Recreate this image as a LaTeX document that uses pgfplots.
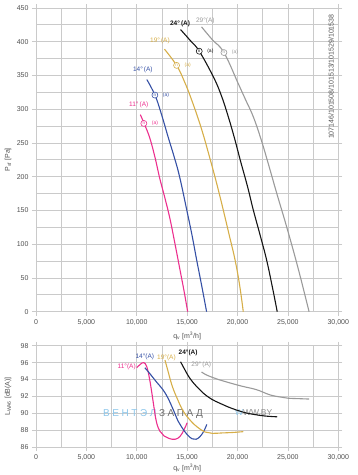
\documentclass[border=0pt]{standalone}
\usepackage{pgfplots}
\pgfplotsset{compat=1.18}
\usepackage{fontspec}
\setmainfont{Liberation Sans}
\definecolor{pinkc}{HTML}{EC2F8E}
\definecolor{bluec}{HTML}{3550A5}
\definecolor{goldc}{HTML}{D6AE48}
\definecolor{blackc}{HTML}{151515}
\definecolor{grayc}{HTML}{9A9A9A}
\definecolor{gridc}{HTML}{CACACA}
\definecolor{tickc}{HTML}{505050}
\definecolor{wmblue}{HTML}{8CC6EA}
\definecolor{wmgray}{HTML}{6E6E6E}
\tikzset{
  lab/.style={font=\fontsize{6.5}{7}\selectfont, anchor=center},
  alab/.style={font=\fontsize{5}{5}\selectfont, anchor=west, text=#1},
}
\pgfplotsset{
  common/.style={
    scale only axis, width=302.3pt,
    xmin=0, xmax=30000,
    xtick={0,5000,...,30000}, minor xtick={2500,7500,...,27500},
    scaled x ticks=false,
    grid=both,
    major grid style={gridc, line width=0.8pt},
    minor grid style={gridc, line width=0.8pt},
    axis line style={gridc, line width=0.8pt},
    tick style={gridc, line width=0.7pt},
    tick align=outside, major tick length=4pt, minor tick length=0pt,
    ticklabel style={font=\fontsize{7}{8}\selectfont, text=tickc},
    /pgf/number format/assume math mode=true,
    /pgf/number format/1000 sep={,},
    label style={font=\fontsize{7}{8}\selectfont, text=tickc},
    clip=false,
  },
  curve/.style={line width=1.1pt, smooth, tension=0.7, mark=none},
  opm/.style={draw=none, mark=none, nodes near coords={n},
    every node near coord/.style={circle, draw=#1, text=#1, fill=white,
      inner sep=0pt, minimum size=6pt, line width=0.6pt,
      font=\fontsize{4.5}{4.5}\selectfont, anchor=center}},
}
\begin{document}
\begin{tikzpicture}
\useasboundingbox (0,-475pt) rectangle (358pt,0);
% ---------------- upper chart ----------------
\begin{axis}[common, at={(36pt,-8pt)}, anchor=north west,
  height=303.7pt, ymin=0, ymax=450,
  ytick={0,50,...,450}, minor ytick={25,75,...,425},
  xlabel={q\textsubscript{v} [m\textsuperscript{3}/h]},
  xlabel style={at={(axis description cs:0.5,-0.08)}, anchor=center},
  ylabel={P\textsubscript{sf} [Pa]},
  ylabel style={at={(axis description cs:-0.0926,0.5)}, anchor=center},
]
\addplot[curve, pinkc] coordinates {(10350,292)(10700,280)(11300,257)(11870,225)(12240,200)(12800,168)(13290,138)(13800,100)(14290,62)(14700,30)(15050,0)};
\addplot[curve, bluec] coordinates {(11000,344)(11800,321)(12400,295)(13130,258)(13700,230)(14250,200)(15000,148)(15500,112)(15940,77)(16450,38)(16930,0)};
\addplot[curve, goldc] coordinates {(12750,389)(13950,365)(14700,342)(15440,314)(16400,272)(17300,225)(18000,186)(18580,151)(19200,112)(19750,77)(20200,40)(20570,0)};
\addplot[curve, blackc] coordinates {(14350,418)(15300,402)(16200,386)(17600,348)(18400,320)(19080,289)(19700,257)(20300,223)(21000,185)(21560,151)(22250,113)(22880,77)(23450,37)(23940,0)};
\addplot[curve, grayc] coordinates {(16430,422)(17500,403)(18650,384)(20070,338)(20800,314)(21560,289)(22300,257)(23000,222)(23900,175)(24870,126)(26000,65)(27100,0)};
% operating points
\addplot[opm=pinkc] coordinates {(10700,279)};
\addplot[opm=bluec] coordinates {(11800,321)};
\addplot[opm=goldc] coordinates {(13950,365)};
\addplot[opm=blackc] coordinates {(16200,386)};
\addplot[opm=grayc] coordinates {(18650,384)};
\node[alab=pinkc] at (axis cs:11150,279) {(a)};
\node[alab=bluec] at (axis cs:12250,321) {(a)};
\node[alab=goldc] at (axis cs:14400,365) {(a)};
\node[alab=blackc] at (axis cs:16650,386) {(a)};
\node[alab=grayc] at (axis cs:19100,384) {(a)};
% curve labels
\node[lab, text=pinkc] at (axis cs:10200,307) {11°\,(A)};
\node[lab, text=bluec] at (axis cs:10600,358) {14°\,(A)};
\node[lab, text=goldc] at (axis cs:12300,401) {19°\,(A)};
\node[lab, text=blackc, font=\bfseries\fontsize{6.5}{7}\selectfont] at (axis cs:14300,426) {24°\,(A)};
\node[lab, text=grayc] at (axis cs:16800,431) {29°(A)};
\end{axis}
\node[rotate=90, font=\fontsize{7}{7}\selectfont, text=tickc] at (331pt,-76.7pt) {107146/101508/101513/101529/101538};
% ---------------- lower chart ----------------
\begin{axis}[common, at={(36pt,-345.7pt)}, anchor=north west,
  height=101.6pt, ymin=86, ymax=98,
  ytick={86,88,...,98},
  xlabel={q\textsubscript{v} [m\textsuperscript{3}/h]},
  xlabel style={at={(axis description cs:0.5,-0.204)}, anchor=center},
  ylabel={L\textsubscript{WA6} [dB(A)]},
  ylabel style={at={(axis description cs:-0.0926,0.5)}, anchor=center},
]
% watermark
\node[anchor=west, font=\fontsize{10}{10}\selectfont, text=wmblue] at (axis cs:6300,89.95) {В\hspace{2.6pt}Е\hspace{2.6pt}Н\hspace{2.6pt}Т\hspace{2.6pt}Э\hspace{2.6pt}Л\hspace{2.6pt}\textcolor{wmgray}{З\hspace{2.6pt}А\hspace{2.6pt}П\hspace{2.6pt}А\hspace{2.6pt}Д}};
\node[anchor=west, font=\fontsize{8.5}{9}\selectfont, text=wmgray!80] at (axis cs:19400,90.1) {\textcolor{wmblue}{W}WW.BY};
\addplot[curve, pinkc] coordinates {(10000,95.4)(10350,95.8)(10700,96.0)(11000,95.5)(11250,94.2)(11500,92.4)(11750,90.4)(11970,88.9)(12300,87.9)(12700,87.35)(13200,87.05)(13800,86.95)(14300,87.3)(14700,88.1)(15000,88.9)};
\addplot[curve, bluec] coordinates {(10800,95.4)(11300,94.7)(11970,93.7)(12600,92.8)(13100,91.8)(13600,90.5)(14100,89.1)(14450,88.4)(15000,87.5)(15500,87.0)(15900,86.95)(16300,87.3)(16650,87.9)(16950,88.7)};
\addplot[curve, goldc] coordinates {(12800,96.3)(13100,95.0)(13500,93.3)(14000,91.8)(14600,90.3)(15300,89.2)(16000,88.4)(16800,87.8)(17500,87.65)(18500,87.7)(19500,87.75)(20570,87.85)};
\addplot[curve, blackc] coordinates {(14350,96.1)(14800,95.1)(15300,94.1)(16000,93.1)(16600,92.4)(17400,91.7)(18250,91.2)(19000,90.8)(19900,90.4)(20700,90.1)(21560,89.9)(22700,89.7)(23940,89.6)};
\addplot[curve, grayc] coordinates {(16430,94.9)(17000,94.5)(18250,93.95)(19250,93.6)(20500,93.2)(21900,92.8)(23200,92.2)(24200,91.95)(25000,91.8)(26000,91.75)(27100,91.7)};
\node[lab, text=pinkc] at (axis cs:9000,95.5) {11°(A)};
\node[lab, text=bluec] at (axis cs:10800,96.7) {14°(A)};
\node[lab, text=goldc] at (axis cs:12950,96.6) {19°(A)};
\node[lab, text=blackc, font=\bfseries\fontsize{6.5}{7}\selectfont] at (axis cs:15100,97.2) {24°(A)};
\node[lab, text=grayc] at (axis cs:16400,95.8) {29°\,(A)};
\end{axis}
\end{tikzpicture}
\end{document}
